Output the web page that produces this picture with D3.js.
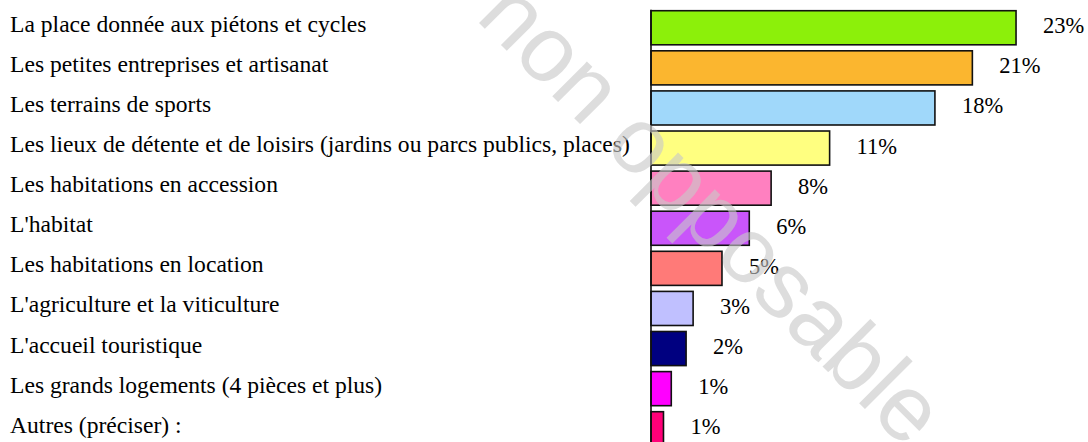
<!DOCTYPE html>
<html>
<head>
<meta charset="utf-8">
<script src="https://cdn.jsdelivr.net/npm/d3@7"></script>
<style>
  html, body { margin: 0; padding: 0; background: #fff; }
  svg { display: block; }
</style>
</head>
<body>
<svg id="chart" width="1088" height="442"></svg>
<script>
const categories = [
  "La place donnée aux piétons et cycles",
  "Les petites entreprises et artisanat",
  "Les terrains de sports",
  "Les lieux de détente et de loisirs (jardins ou parcs publics, places)",
  "Les habitations en accession",
  "L'habitat",
  "Les habitations en location",
  "L'agriculture et la viticulture",
  "L'accueil touristique",
  "Les grands logements (4 pièces et plus)",
  "Autres (préciser) :"
];
const values = [23.4, 20.6, 18.2, 11.45, 7.7, 6.3, 4.55, 2.7, 2.25, 1.3, 0.8];
const colors = ["#8cf00a", "#fbb62f", "#a0d8fa", "#ffff80", "#ff80c0", "#c955fa",
                "#ff7a78", "#c0c0ff", "#000080", "#ff00ff", "#ff0078"];
const watermark = "Document non opposable";

const svg = d3.select("#chart");
const W = 1088, H = 442;

const x = d3.scaleLinear().domain([0, 25]).range([651, 1041]);
const y = d3.scaleBand().domain(categories).range([7.7, 448.8])
  .paddingInner(0.15).paddingOuter(0.075);

const serif = "'Liberation Serif', 'Times New Roman', Times, serif";

// category labels
svg.append("g").selectAll("text").data(categories).join("text")
  .attr("x", 10)
  .attr("y", d => y(d) + y.bandwidth() / 2 + 4)
  .attr("font-family", serif)
  .attr("font-size", 23.6)
  .attr("fill", "#000")
  .text(d => d);

// bars
svg.append("g").selectAll("rect").data(categories).join("rect")
  .attr("x", x(0))
  .attr("y", d => y(d))
  .attr("width", (d, i) => x(values[i]) - x(0))
  .attr("height", y.bandwidth())
  .attr("fill", (d, i) => colors[i])
  .attr("stroke", "#111")
  .attr("stroke-width", 1.6);

// axis line
svg.append("line")
  .attr("x1", x(0)).attr("x2", x(0))
  .attr("y1", y(categories[0]) - 1).attr("y2", H)
  .attr("stroke", "#111").attr("stroke-width", 1.6);

// value labels
svg.append("g").selectAll("text").data(categories).join("text")
  .attr("x", (d, i) => x(values[i]) + 27)
  .attr("y", d => y(d) + y.bandwidth() / 2 + 5.5)
  .attr("font-family", serif)
  .attr("font-size", 22.5)
  .attr("fill", "#000")
  .text((d, i) => Math.round(values[i]) + "%");

// watermark
svg.append("text")
  .attr("transform", "translate(906,450) rotate(45)")
  .attr("text-anchor", "end")
  .attr("font-family", "'Liberation Sans', Arial, sans-serif")
  .attr("font-size", 93)
  .attr("fill", "rgb(200,200,200)")
  .attr("fill-opacity", 0.62)
  .text(watermark);
</script>
</body>
</html>
